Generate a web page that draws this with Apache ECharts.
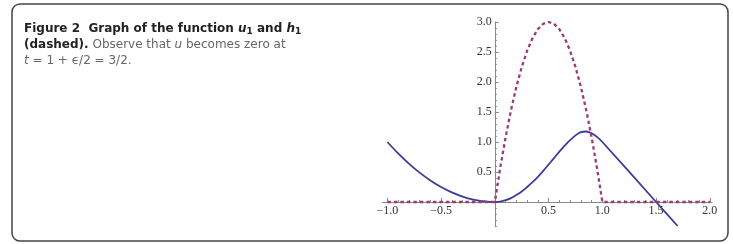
<!DOCTYPE html>
<html>
<head>
<meta charset="utf-8">
<script src="https://cdn.jsdelivr.net/npm/echarts@6/dist/echarts.min.js"></script>
<style>
  html, body { margin: 0; padding: 0; background: #fff; }
  #chart { width: 733px; height: 244px; }
</style>
</head>
<body>
<div id="chart"></div>
<script>
// u1 (solid)
const uT = [-1, -0.9, -0.8, -0.7, -0.6, -0.5, -0.4, -0.3, -0.2, -0.1, 0,
  0.05, 0.1, 0.15, 0.2, 0.25, 0.3, 0.35, 0.4, 0.45, 0.5,
  0.55, 0.6, 0.65, 0.7, 0.75, 0.8, 0.85, 0.9, 0.95, 1.0, 1.5, 1.7];
const uValues = [1.0, 0.81, 0.64, 0.49, 0.36, 0.25, 0.16, 0.09, 0.04, 0.01, 0,
  0.008, 0.03, 0.065, 0.115, 0.175, 0.25, 0.33, 0.42, 0.52, 0.625,
  0.73, 0.84, 0.94, 1.03, 1.11, 1.165, 1.175, 1.145, 1.085, 1.0, 0, -0.4];

// h1 (dashed)
const hT = [-1, 0, 0.05, 0.1, 0.15, 0.2, 0.25, 0.3, 0.35, 0.4, 0.45, 0.5,
  0.55, 0.6, 0.65, 0.7, 0.75, 0.8, 0.85, 0.9, 0.95, 1.0, 2.0];
const hValues = [0, 0, 0.57, 1.08, 1.53, 1.92, 2.25, 2.52, 2.73, 2.88, 2.97, 3.0,
  2.97, 2.88, 2.73, 2.52, 2.25, 1.92, 1.53, 1.08, 0.57, 0, 0];

const xTickValues = [-1, -0.5, 0.5, 1, 1.5, 2];
const yTickValues = [0.5, 1, 1.5, 2, 2.5, 3];

const X_MIN = -1.05, X_MAX = 2.02, Y_MIN = -0.4, Y_MAX = 3.0;
const GRID = { left: 382, top: 22, width: 330, height: 204 };

// pixel distance from the grid edges to the zero lines (axes cross at the origin)
const zeroFromLeft = ((0 - X_MIN) / (X_MAX - X_MIN)) * GRID.width;
const zeroFromBottom = ((0 - Y_MIN) / (Y_MAX - Y_MIN)) * GRID.height;

function minorTicks(from, to, majors) {
  const out = [];
  for (let i = Math.round(from * 10); i <= Math.round(to * 10); i++) {
    const v = i / 10;
    if (v !== 0 && !majors.includes(v)) out.push(v);
  }
  return out;
}

function fmtTick(v) {
  return Number(v).toFixed(1).replace("-", "\u2212");
}

function pairs(xs, ys) {
  return xs.map((x, i) => [x, ys[i]]);
}

const axisColor = "#8a8a8a";
const labelStyle = { fontFamily: "Liberation Serif", fontSize: 12, color: "#333" };
const capFont = "DejaVu Sans";
const capSize = 12;

const chart = echarts.init(document.getElementById("chart"), null, { renderer: "canvas" });

chart.setOption({
  animation: false,
  backgroundColor: "#fff",
  title: {
    left: 24,
    top: 21,
    padding: 0,
    text:
      "{b|Figure 2  Graph of the function }{bi|u}{bs|1}{b| and }{bi|h}{bs|1}\n" +
      "{b|(dashed).}{r| Observe that }{ri|u}{r| becomes zero at}\n" +
      "{ri|t}{r| = 1 + \u03f5/2 = 3/2.}",
    textStyle: {
      lineHeight: 16,
      fontWeight: "normal",
      rich: {
        b: { fontFamily: capFont, fontWeight: "bold", fontSize: capSize, color: "#222", lineHeight: 16 },
        bi: { fontFamily: capFont, fontWeight: "bold", fontStyle: "italic", fontSize: capSize, color: "#222", lineHeight: 16 },
        bs: { fontFamily: capFont, fontWeight: "bold", fontSize: 9, color: "#222", lineHeight: 16, padding: [6, 0, 0, 0] },
        r: { fontFamily: capFont, fontWeight: "normal", fontSize: capSize, color: "#666", lineHeight: 16 },
        ri: { fontFamily: capFont, fontWeight: "normal", fontStyle: "italic", fontSize: capSize, color: "#666", lineHeight: 16 },
      },
    },
  },
  graphic: [
    {
      type: "rect",
      shape: { x: 12, y: 4, width: 716, height: 237, r: 8 },
      style: { fill: null, stroke: "#444", lineWidth: 1.5 },
      silent: true,
      z: 100,
    },
  ],
  grid: GRID,
  xAxis: [
    {
      type: "value",
      position: "bottom",
      offset: -zeroFromBottom,
      min: X_MIN,
      max: X_MAX,
      splitLine: { show: false },
      axisLine: { onZero: false, lineStyle: { color: axisColor, width: 1 } },
      axisTick: { customValues: xTickValues, inside: true, length: 4, lineStyle: { color: axisColor } },
      axisLabel: { customValues: xTickValues, formatter: fmtTick, margin: 3, ...labelStyle },
    },
    {
      type: "value",
      position: "top",
      offset: -(GRID.height - zeroFromBottom),
      min: X_MIN,
      max: X_MAX,
      splitLine: { show: false },
      axisLine: { show: false, onZero: false },
      axisTick: { customValues: minorTicks(-1, 2, xTickValues), inside: false, length: 2, lineStyle: { color: axisColor } },
      axisLabel: { show: false },
    },
  ],
  yAxis: [
    {
      type: "value",
      position: "left",
      offset: -zeroFromLeft,
      min: Y_MIN,
      max: Y_MAX,
      splitLine: { show: false },
      axisLine: { onZero: false, lineStyle: { color: axisColor, width: 1 } },
      axisTick: { customValues: yTickValues, inside: true, length: 4, lineStyle: { color: axisColor } },
      axisLabel: { customValues: yTickValues, formatter: fmtTick, margin: 3, ...labelStyle },
    },
    {
      type: "value",
      position: "right",
      offset: -(GRID.width - zeroFromLeft),
      min: Y_MIN,
      max: Y_MAX,
      splitLine: { show: false },
      axisLine: { show: false, onZero: false },
      axisTick: { customValues: minorTicks(-0.4, 3, yTickValues), inside: false, length: 2, lineStyle: { color: axisColor } },
      axisLabel: { show: false },
    },
  ],
  series: [
    {
      name: "u1",
      type: "line",
      data: pairs(uT, uValues),
      smooth: 0.3,
      showSymbol: false,
      lineStyle: { color: "#3d3d99", width: 1.8 },
      z: 3,
    },
    {
      name: "h1",
      type: "line",
      data: pairs(hT, hValues),
      smooth: false,
      showSymbol: false,
      lineStyle: { color: "#993d71", width: 2.3, type: [3.5, 3] },
      z: 4,
    },
  ],
});
</script>
</body>
</html>
